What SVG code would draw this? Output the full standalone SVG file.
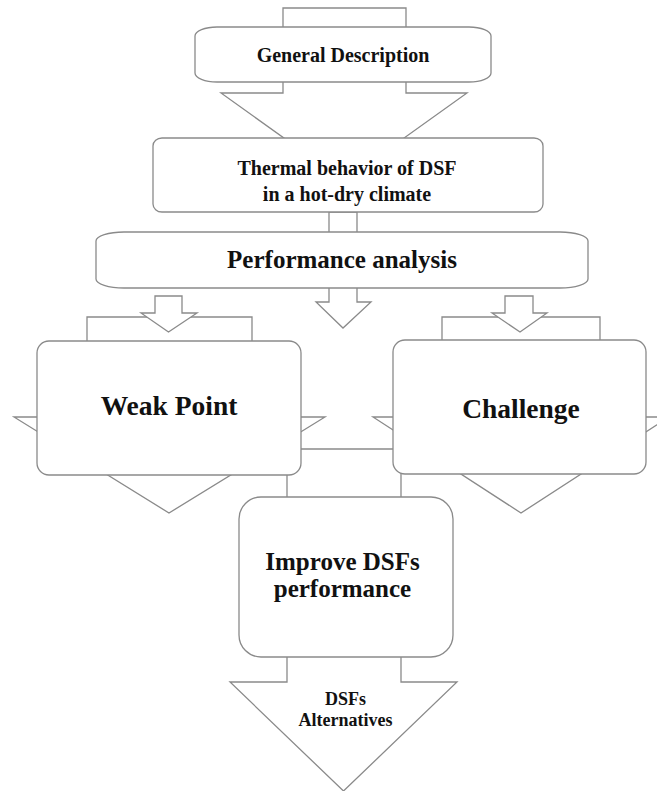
<svg xmlns="http://www.w3.org/2000/svg" width="657" height="791" viewBox="0 0 657 791">
<style>
.a{fill:#fff;stroke:#8a8a8a;stroke-width:1.3;stroke-linejoin:miter}
.b{fill:#fff;stroke:#8a8a8a;stroke-width:1.3}
.t{font-family:"Liberation Serif","Times New Roman",serif;font-weight:bold;fill:#111;text-anchor:middle}
</style>
<rect width="657" height="791" fill="#fff"/>
<g id="connectors">
<path class="a" d="M283,8 H406 V93 H467 L344,181 L221,93 H283 Z"/>
<path class="a" d="M329,212 H357 V302 H371 L343,328 L316,302 H329 Z"/>
<path class="a" d="M287,449 H401 V682 H457 L343.5,791 L230,682 H287 Z"/>
<path class="a" d="M87,317 H252 V417 H325 L169,513 L14,417 H87 Z"/>
<path class="a" d="M442,317 H600 V417 H669 L521,513 L373,417 H442 Z"/>
<path class="a" d="M155,296 H182 V313 H197 L168.5,332 L141,313 H155 Z"/>
<path class="a" d="M505,296 H533 V313 H547 L520,332 L492,313 H505 Z"/>
</g>
<g id="general">
<rect class="b" x="195" y="27" width="296" height="55" rx="22" ry="9"/>
<text class="t" x="343" y="62" font-size="20">General Description</text>
</g>
<g id="thermal">
<rect class="b" x="153" y="138" width="390" height="74" rx="9" ry="8"/>
<text class="t" x="347" y="175" font-size="20">Thermal behavior of DSF</text>
<text class="t" x="347" y="201" font-size="20">in a hot-dry climate</text>
</g>
<g id="performance">
<rect class="b" x="96" y="232" width="492" height="56" rx="28" ry="9"/>
<text class="t" x="342" y="268" font-size="25">Performance analysis</text>
</g>
<g id="weak">
<rect class="b" x="37" y="341" width="264" height="134" rx="12"/>
<text class="t" x="169" y="415" font-size="27.5">Weak Point</text>
</g>
<g id="challenge">
<rect class="b" x="393" y="340" width="253" height="134" rx="12"/>
<text class="t" x="521" y="418" font-size="27.5">Challenge</text>
</g>
<g id="improve">
<rect class="b" x="239" y="497" width="214" height="160" rx="22"/>
<text class="t" x="342.5" y="570" font-size="25">Improve DSFs</text>
<text class="t" x="342.5" y="597" font-size="25">performance</text>
</g>
<g id="alternatives">
<text class="t" x="345.5" y="705" font-size="18">DSFs</text>
<text class="t" x="345.5" y="726" font-size="18">Alternatives</text>
</g>
</svg>
